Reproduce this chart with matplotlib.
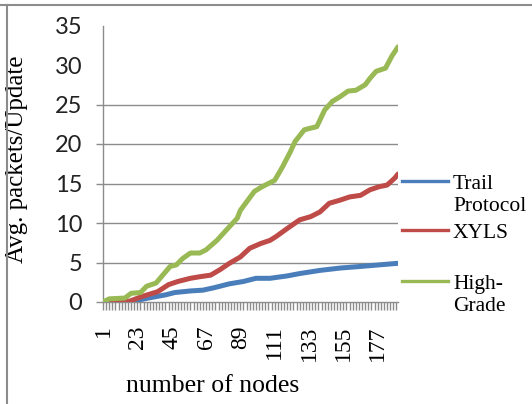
import numpy as np
import matplotlib.pyplot as plt
from matplotlib.lines import Line2D
from matplotlib.patches import Rectangle

# readings (node number, avg packets per update)
trail_nodes = [1, 18, 30, 41, 47, 57, 65, 72, 82, 91, 99, 108, 119, 127, 140, 153, 166, 178, 190]
trail_vals = [0, 0.0, 0.5, 0.9, 1.2, 1.4, 1.5, 1.8, 2.3, 2.6, 3.0, 3.0, 3.3, 3.6, 4.0, 4.3, 4.5, 4.7, 4.9]

xyls_nodes = [1, 8, 18, 26, 36, 43, 49, 57, 63, 70, 76, 82, 89, 95, 102, 108, 112, 119,
              127, 134, 140, 146, 153, 159, 166, 172, 178, 183, 188, 190]
xyls_vals = [0, 0.05, 0.1, 0.7, 1.3, 2.2, 2.6, 3.0, 3.2, 3.4, 4.1, 4.9, 5.7, 6.8, 7.4, 7.8, 8.3, 9.3,
             10.4, 10.8, 11.4, 12.5, 12.9, 13.3, 13.5, 14.2, 14.6, 14.8, 15.7, 16.2]

hg_nodes = [1, 5, 15, 19, 25, 29, 35, 41, 44, 48, 52, 57, 63, 67, 74, 80, 87, 89, 98, 103,
            111, 116, 121, 124, 130, 138, 143, 148, 153, 158, 163, 169, 172, 176, 182, 186, 190]
hg_vals = [0, 0.4, 0.5, 1.1, 1.2, 2.0, 2.4, 3.8, 4.5, 4.7, 5.5, 6.2, 6.2, 6.6, 7.8, 9.1, 10.6, 11.6, 14.0, 14.6,
           15.4, 17.1, 19.0, 20.3, 21.8, 22.2, 24.3, 25.4, 26.0, 26.7, 26.8, 27.5, 28.3, 29.2, 29.6, 31.1, 32.3]

series_names = ["Trail\nProtocol", "XYLS", "High-\nGrade"]
colors = ["#4A7EBB", "#BE4B48", "#98B954"]

label_nodes = [1, 23, 45, 67, 89, 111, 133, 155, 177]
y_ticks = [0, 5, 10, 15, 20, 25, 30, 35]
grid_vals = [5, 10, 15, 20, 25]

grey = "#8C8C8C"
serif = "Liberation Serif"

fig = plt.figure(figsize=(5.32, 4.04), dpi=100)
ax = fig.add_axes([103 / 532, 102 / 404, 295 / 532, 276.5 / 404])

for v in grid_vals:
    ax.axhline(v, color=grey, lw=1.0, zorder=1)

data = [(trail_nodes, trail_vals), (xyls_nodes, xyls_vals), (hg_nodes, hg_vals)]
for (n, v), c in zip(data, colors):
    ax.plot(n, v, color=c, lw=3.6, solid_joinstyle="round", solid_capstyle="round", zorder=3)

ax.set_xlim(1, 190)
ax.set_ylim(0, 35)

for s in ["top", "right"]:
    ax.spines[s].set_visible(False)
for s in ["left", "bottom"]:
    ax.spines[s].set_color(grey)
    ax.spines[s].set_linewidth(1.0)

ax.set_yticks(y_ticks)
ax.set_yticklabels([str(t) for t in y_ticks], fontfamily="Lato", fontsize=17, color="#222222")
ax.tick_params(axis="y", length=5, width=1.0, color=grey, pad=10)
for t in ax.yaxis.get_major_ticks()[6:]:
    t.tick1line.set_visible(False)

ax.set_xticks(label_nodes)
ax.set_xticklabels([str(t) for t in label_nodes], rotation=90, fontfamily=serif,
                   fontsize=17, va="top", ha="center")
ax.set_xticks(np.arange(1, 191, 2), minor=True)
ax.tick_params(axis="x", which="both", length=6, width=1.0, color=grey, pad=11)

ax.set_xlabel("number of nodes", fontfamily=serif, fontsize=18.5)
ax.xaxis.set_label_coords(0.37, -0.265)
ax.set_ylabel("Avg. packets/Update", fontfamily=serif, fontsize=18)
ax.yaxis.set_label_coords(-0.255, 0.515)

# legend drawn by hand, clipped like the original
clip = Rectangle((0, 92 / 404), 1, 1, transform=fig.transFigure, visible=False)
fig.add_artist(clip)
leg_y = [181, 230, 281]
for name, c, yp in zip(series_names, colors, leg_y):
    yf = 1 - yp / 404
    fig.add_artist(Line2D([402 / 532, 448 / 532], [yf, yf], color=c, lw=2.4))
    t = fig.text(453 / 532, 1 - (yp - 6) / 404, name, fontfamily=serif, fontsize=15.5,
                 va="top", ha="left", linespacing=1.2)
    t.set_clip_path(clip)

# frame of the cropped figure
fig.add_artist(Line2D([0, 1], [1 - 5 / 404, 1 - 5 / 404], color=grey, lw=1.5))
fig.add_artist(Line2D([7 / 532, 7 / 532], [0, 1 - 5 / 404], color=grey, lw=1.5))

fig.savefig("out.png", dpi=100)
